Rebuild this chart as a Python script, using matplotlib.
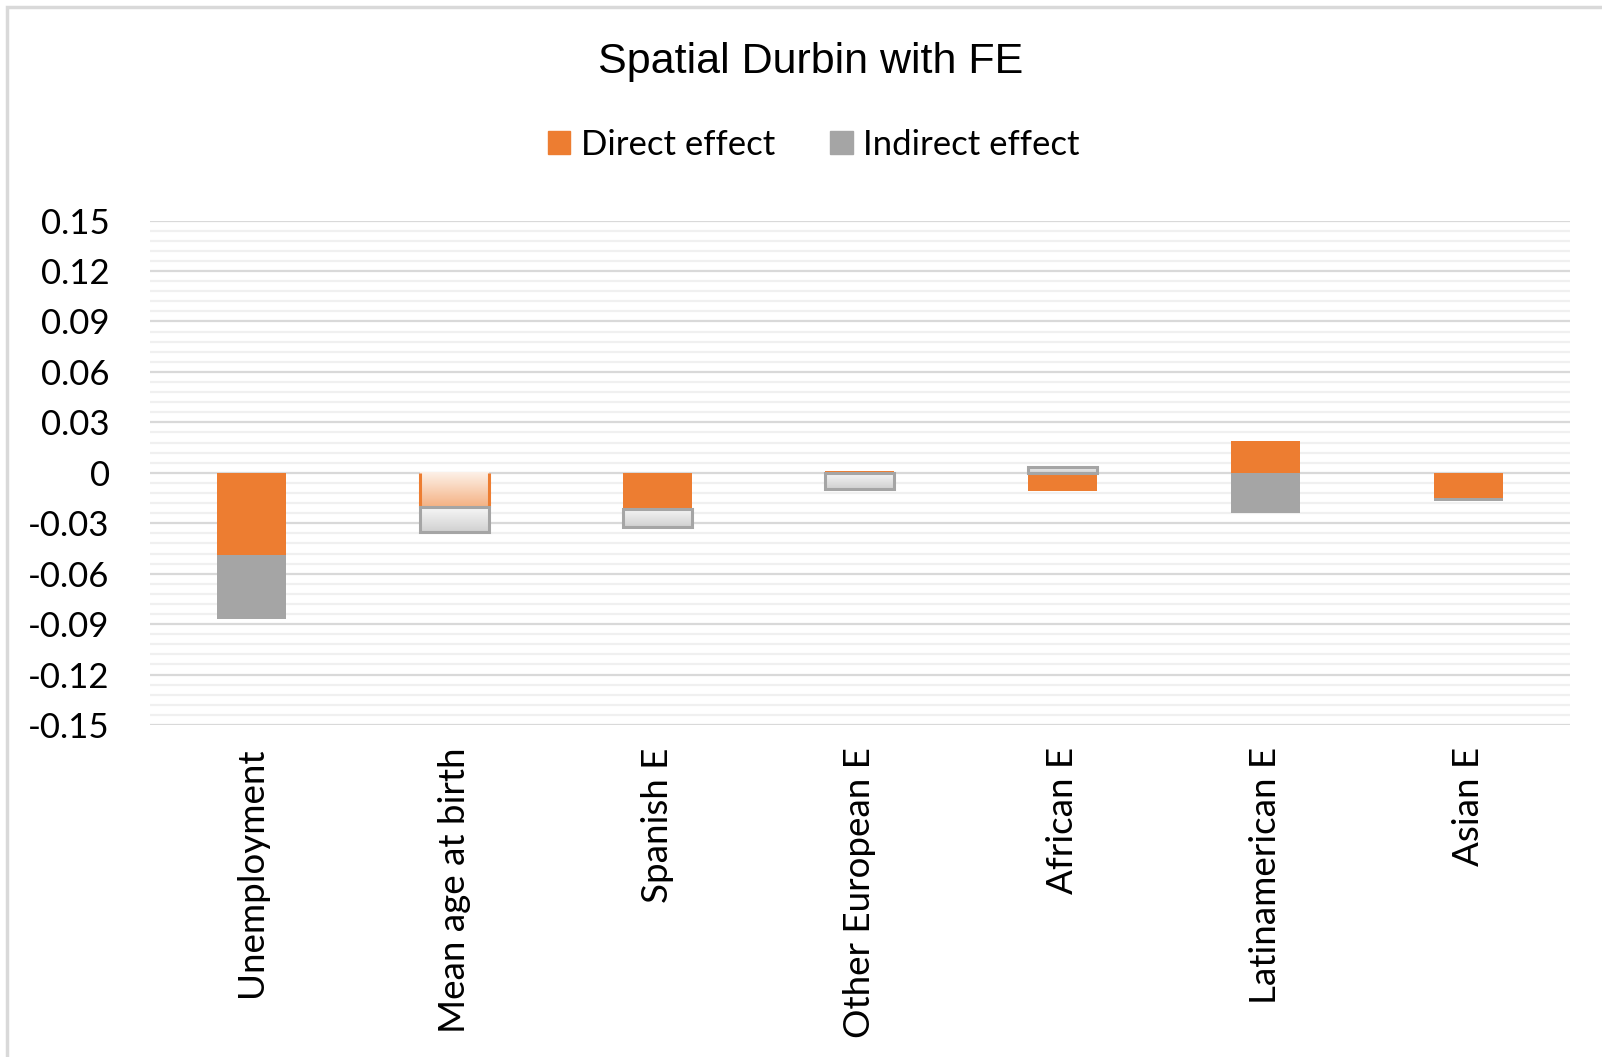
import matplotlib
matplotlib.use('Agg')
import matplotlib.pyplot as plt
import numpy as np
from matplotlib.patches import Rectangle
from matplotlib.colors import LinearSegmentedColormap
from matplotlib.ticker import MultipleLocator

categories = ['Unemployment', 'Mean age at birth', 'Spanish E', 'Other European E',
              'African E', 'Latinamerican E', 'Asian E']
direct = [-0.0486, -0.0206, -0.0213, 0.0012, -0.0110, 0.0188, -0.0152]
indirect = [-0.0383, -0.0146, -0.0110, -0.0097, 0.0036, -0.0237, -0.0018]

# which segments Excel drew with the gradient fill
direct_grad = [False, True, False, False, False, False, False]
indirect_grad = [False, True, True, True, True, False, False]

ORANGE = '#ED7D31'
GRAY = '#A5A5A5'

plt.rcParams['font.family'] = ['Lato', 'DejaVu Sans']

fig = plt.figure(figsize=(16.02, 10.57), dpi=100)
ax = fig.add_axes([0.0936, 0.3141, 0.8864, 0.4772])

x = np.arange(len(categories))
width = 0.34

orange_cmap = LinearSegmentedColormap.from_list('og', ['#FDF1E8', '#F4B183'])
gray_cmap = LinearSegmentedColormap.from_list('gg', ['#F7F7F7', '#D0D0D0'])


def gradient_bar(xc, bottom, height, cmap, edge, lw, sides_only=False):
    y0, y1 = bottom, bottom + height
    lo, hi = min(y0, y1), max(y0, y1)
    grad = np.linspace(0, 1, 100).reshape(-1, 1)
    ax.imshow(grad, cmap=cmap, aspect='auto', origin='upper',
              extent=[xc - width / 2, xc + width / 2, lo, hi], zorder=3)
    if sides_only:
        for xe in (xc - width / 2, xc + width / 2):
            ax.plot([xe, xe], [lo, hi], color=edge, lw=lw, zorder=4,
                    solid_capstyle='butt')
    else:
        ax.add_patch(Rectangle((xc - width / 2, lo), width, hi - lo, fill=False,
                               edgecolor=edge, lw=lw, zorder=4))


pos_base = np.zeros(len(categories))
neg_base = np.zeros(len(categories))
for i in range(len(categories)):
    for val, grad, col, cmap, is_direct in [(direct[i], direct_grad[i], ORANGE, orange_cmap, True),
                                            (indirect[i], indirect_grad[i], GRAY, gray_cmap, False)]:
        base = pos_base[i] if val >= 0 else neg_base[i]
        if grad:
            gradient_bar(x[i], base, val, cmap, col, 2.2, sides_only=is_direct)
        else:
            ax.bar(x[i], val, width, bottom=base, color=col, zorder=3)
        if val >= 0:
            pos_base[i] += val
        else:
            neg_base[i] += val

ax.set_xlim(-0.5, len(categories) - 0.5)
ax.set_ylim(-0.15, 0.15)
ax.yaxis.set_minor_locator(MultipleLocator(0.006))
ax.set_yticks(np.arange(-0.15, 0.1501, 0.03))
ax.set_yticklabels(['-0.15', '-0.12', '-0.09', '-0.06', '-0.03', '0',
                    '0.03', '0.06', '0.09', '0.12', '0.15'])
ax.grid(axis='y', which='major', color='#D9D9D9', lw=1.6, zorder=0)
ax.grid(axis='y', which='minor', color='#F0F0F0', lw=1.6, zorder=0)
ax.set_axisbelow(True)
for s in ax.spines.values():
    s.set_visible(False)
ax.tick_params(axis='y', which='both', length=0, pad=29, labelsize=25)
ax.tick_params(axis='x', length=0, pad=16, labelsize=26.5)
ax.set_xticks(x)
ax.set_xticklabels(categories, rotation=90, va='top', ha='center')

fig.text(0.506, 0.941, 'Spatial Durbin with FE', ha='center', va='center',
         fontsize=31, family=['Liberation Sans', 'DejaVu Sans'])

handles = [Rectangle((0, 0), 1, 1, color=ORANGE), Rectangle((0, 0), 1, 1, color=GRAY)]
fig.legend(handles, ['Direct effect', 'Indirect effect'], loc='center',
           bbox_to_anchor=(0.508, 0.863), ncol=2, frameon=False, fontsize=25,
           handlelength=0.65, handleheight=0.65, handletextpad=0.3, columnspacing=1.6)

fig.patches.append(Rectangle((0.0045, -0.05), 1.2, 1.043, transform=fig.transFigure,
                             fill=False, edgecolor='#D9D9D9', lw=2.5))

fig.savefig('out.png', dpi=100, facecolor='white')
